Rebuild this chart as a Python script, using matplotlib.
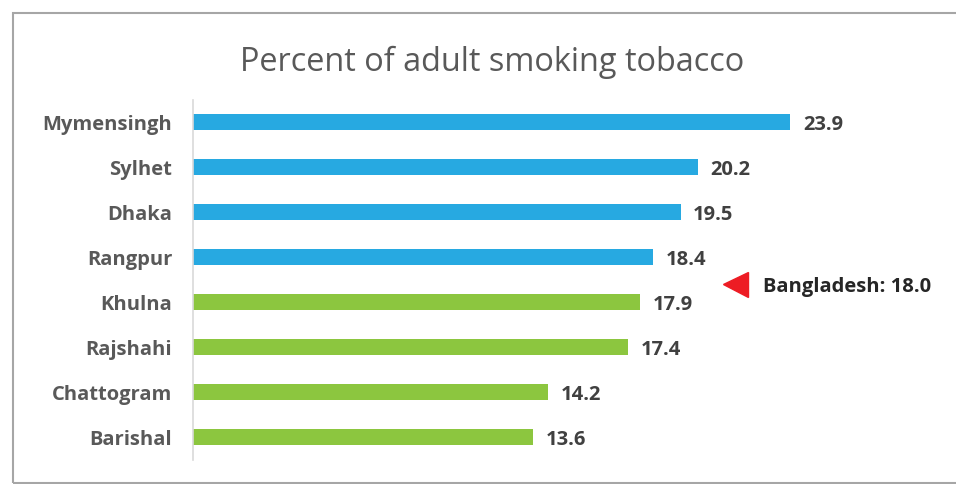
import matplotlib
matplotlib.use('Agg')
import matplotlib.pyplot as plt
from matplotlib.patches import Rectangle

# data
divisions = ['Mymensingh', 'Sylhet', 'Dhaka', 'Rangpur', 'Khulna', 'Rajshahi', 'Chattogram', 'Barishal']
smoking = [23.9, 20.2, 19.5, 18.4, 17.9, 17.4, 14.2, 13.6]
national = 18.0
title = 'Percent of adult smoking tobacco'

blue = '#27A9E1'
green = '#8CC63F'
colors = [blue if v > national else green for v in smoking]

plt.rcParams['font.family'] = ['Open Sans', 'DejaVu Sans']

fig = plt.figure(figsize=(9.56, 4.85), dpi=100)

# outer frame of the chart
fig.patches.append(Rectangle((13 / 956, 1 / 485), 0.99, 470 / 485, transform=fig.transFigure,
                             fill=False, edgecolor='#a6a6a6', linewidth=1.5))

ax = fig.add_axes([193 / 956, 24.5 / 485, 750 / 956, 360 / 485])
ypos = list(range(len(divisions)))
ax.barh(ypos, smoking, height=0.34, color=colors)
ax.set_xlim(0, 30)
ax.set_ylim(len(divisions) - 0.5, -0.5)

for y, v in zip(ypos, smoking):
    ax.text(v + 0.5, y + 0.05, f'{v:.1f}', va='center', ha='left', fontsize=14.5,
            fontweight='bold', color='#404040')

ax.set_yticks(ypos)
ax.set_yticklabels(divisions, fontsize=14.5, fontweight='bold', color='#595959')
ax.tick_params(axis='y', length=0, pad=15)
ax.set_xticks([])
for s in ['top', 'right', 'bottom']:
    ax.spines[s].set_visible(False)
ax.spines['left'].set_color('#d9d9d9')
ax.spines['left'].set_linewidth(1.2)

# national average marker
ax.plot([21.7], [3.6], marker='<', markersize=18, color='#ED1C24', clip_on=False)
ax.text(22.8, 3.65, f'Bangladesh: {national:.1f}', va='center', ha='left', fontsize=14.5,
        fontweight='bold', color='#262626')

fig.text(492 / 956, 1 - 62 / 485, title, ha='center', va='center', fontsize=23.4, color='#595959')

fig.savefig('out.png', dpi=100)
